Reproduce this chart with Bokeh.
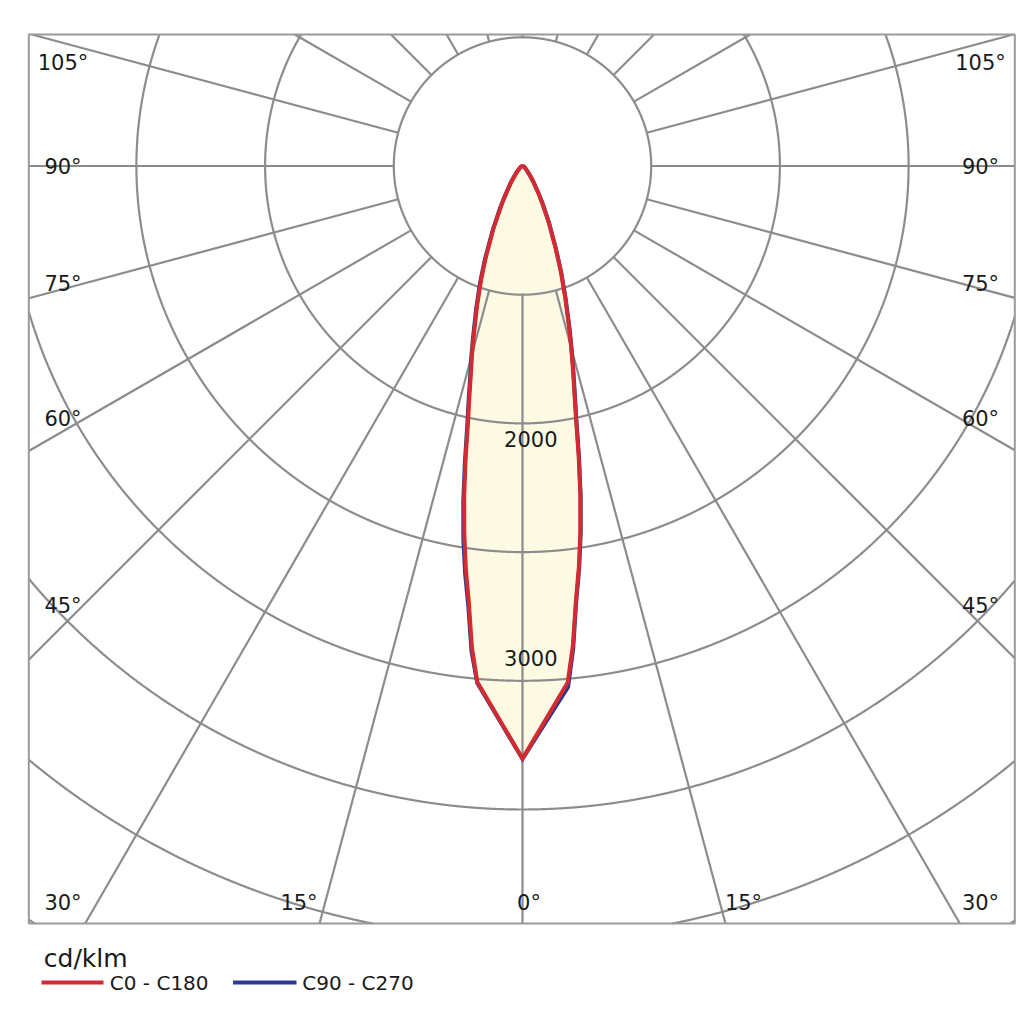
import numpy as np
from bokeh.plotting import figure
from bokeh.models import Range1d
from bokeh.core.properties import value
from bokeh.embed import file_html
from bokeh.resources import INLINE

# ---------------- data (cd/klm) ----------------
gamma = [0, 5, 6, 7, 8, 9, 10, 11, 12, 13, 14, 15, 16, 18, 20, 22, 25, 28, 30, 35, 40, 45, 50, 60, 70, 80, 90]
c0 = [3453, 3022, 2809, 2553, 2360, 2156, 1941, 1713, 1498, 1340, 1212, 1096, 991, 804, 653, 513, 361, 245, 192, 105, 58, 35, 23, 12, 6, 3, 0]
c180 = [3453, 3019, 2821, 2564, 2372, 2168, 1958, 1737, 1527, 1375, 1241, 1136, 1032, 857, 705, 565, 396, 268, 210, 117, 64, 41, 23, 12, 6, 3, 0]
c90 = [3456, 3048, 2827, 2564, 2372, 2168, 1952, 1725, 1509, 1352, 1224, 1107, 1002, 816, 659, 519, 367, 251, 198, 105, 58, 35, 23, 12, 6, 3, 0]
c270 = [3456, 3025, 2844, 2588, 2401, 2203, 1987, 1760, 1550, 1393, 1259, 1154, 1049, 874, 723, 583, 408, 280, 216, 122, 70, 41, 23, 12, 6, 3, 0]

ring_values = [750, 1500, 2250, 3000, 3750, 4500, 5250]
radial_angles = list(range(0, 360, 15))
value_labels = ["2000", "3000"]
angle_labels_side = ["105°", "90°", "75°", "60°", "45°", "30°"]
angle_labels_bottom = ["15°", "0°", "15°"]
series_names = ["C0 - C180", "C90 - C270"]
unit_label = "cd/klm"

# ---------------- layout ----------------
W = H = 1022
K = 750 / 128.7          # cd/klm per pixel
CX, CY = 522.0, 165.5    # pole position in pixels
TY = -8.0                # text vertical correction


def px_x(X):
    return (X - CX) * K


def px_y(Y):
    return (CY - Y) * K


def tx_y(Y):
    return px_y(Y + TY)


GRID = "#8c8c8c"
RED = "#d42a32"
BLUE = "#2b3a8f"
FILL = "#fcfae3"
TXT = "#1a1a1a"
FONT = value("DejaVu Sans")

p = figure(width=W, height=H, output_backend="svg", toolbar_location=None,
           x_range=Range1d(px_x(0), px_x(W)), y_range=Range1d(px_y(H), px_y(0)),
           min_border=0, outline_line_color=None, background_fill_color="white",
           border_fill_color="white", x_axis_location=None, y_axis_location=None)
p.grid.visible = False

# frame in data units
FL, FR, FT, FB = px_x(28.3), px_x(1014.3), px_y(34.0), px_y(923.0)


def polar(vals, angles, sign):
    g = np.radians(np.array(angles, dtype=float))
    r = np.array(vals, dtype=float)
    return sign * r * np.sin(g), -r * np.cos(g)


def outline(right, left):
    xr, yr = polar(right, gamma, 1)
    xl, yl = polar(left, gamma, -1)
    xs = np.concatenate([xr[::-1], xl])
    ys = np.concatenate([yr[::-1], yl])
    return xs, ys


bx, by = outline(c90, c270)
rx, ry = outline(c0, c180)

# fill
p.patch(bx, by, fill_color=FILL, line_color=None)
p.patch(rx, ry, fill_color=FILL, line_color=None)

# rings, clipped to the frame
th = np.linspace(0, 2 * np.pi, 9001)
ring_xs, ring_ys = [], []
for rv in ring_values:
    x = rv * np.cos(th)
    y = rv * np.sin(th)
    inside = (x >= FL) & (x <= FR) & (y >= FB) & (y <= FT)
    if not inside.any():
        continue
    if inside.all():
        ring_xs.append(list(x)); ring_ys.append(list(y))
        continue
    start = int(np.argmin(inside))
    x = np.roll(x[:-1], -start); y = np.roll(y[:-1], -start)
    ins = np.roll(inside[:-1], -start)
    i = 0
    n = len(x)
    while i < n:
        if ins[i]:
            j = i
            while j < n and ins[j]:
                j += 1
            ring_xs.append(list(x[i:j])); ring_ys.append(list(y[i:j]))
            i = j
        else:
            i += 1
p.multi_line(xs=ring_xs, ys=ring_ys, line_color=GRID, line_width=2.2)

# radial lines from first ring to frame
x0s, y0s, x1s, y1s = [], [], [], []
for a in radial_angles:
    g = np.radians(a)
    dx, dy = np.sin(g), -np.cos(g)
    ts = []
    if dx > 1e-9:
        ts.append(FR / dx)
    if dx < -1e-9:
        ts.append(FL / dx)
    if dy > 1e-9:
        ts.append(FT / dy)
    if dy < -1e-9:
        ts.append(FB / dy)
    t = min(ts)
    r0 = ring_values[0]
    if t <= r0:
        continue
    x0s.append(r0 * dx); y0s.append(r0 * dy)
    x1s.append(t * dx); y1s.append(t * dy)
p.segment(x0=x0s, y0=y0s, x1=x1s, y1=y1s, line_color=GRID, line_width=2.2)

# frame
p.quad(left=[FL], right=[FR], bottom=[FB], top=[FT], fill_color=None,
       line_color="#9a9a9a", line_width=2)

# curves
p.line(bx, by, line_color=BLUE, line_width=4, line_join="miter")
p.line(rx, ry, line_color=RED, line_width=4, line_join="miter")

# intensity labels
p.text(x=[px_x(530.3)] * 2, y=[tx_y(446), tx_y(665.5)], text=value_labels,
       text_font=FONT, text_font_size="21px", text_align="center",
       text_baseline="alphabetic", text_color=TXT)

# angle labels
side_y = [70.5, 174, 291.5, 426.5, 613, 910.5]
p.text(x=[px_x(62.5)] * 6, y=[tx_y(v) for v in side_y], text=angle_labels_side,
       text_font=FONT, text_font_size="21px", text_align="center",
       text_baseline="alphabetic", text_color=TXT)
p.text(x=[px_x(980)] * 6, y=[tx_y(v) for v in side_y], text=angle_labels_side,
       text_font=FONT, text_font_size="21px", text_align="center",
       text_baseline="alphabetic", text_color=TXT)
p.text(x=[px_x(298.5), px_x(528.5), px_x(743)], y=[tx_y(910.5)] * 3,
       text=angle_labels_bottom, text_font=FONT, text_font_size="21px",
       text_align="center", text_baseline="alphabetic", text_color=TXT)

# legend
p.text(x=[px_x(43.3)], y=[tx_y(966)], text=[unit_label], text_font=FONT,
       text_font_size="25px", text_align="left", text_baseline="alphabetic",
       text_color=TXT)
p.segment(x0=[px_x(41), px_x(232.5)], y0=[px_y(982)] * 2,
          x1=[px_x(103), px_x(296)], y1=[px_y(982)] * 2,
          line_color=[RED, BLUE], line_width=4)
p.text(x=[px_x(109.3), px_x(301.7)], y=[tx_y(990.7)] * 2, text=series_names,
       text_font=FONT, text_font_size="20px", text_align="left",
       text_baseline="alphabetic", text_color=TXT)

open("out.html", "w").write(file_html(p, INLINE))
